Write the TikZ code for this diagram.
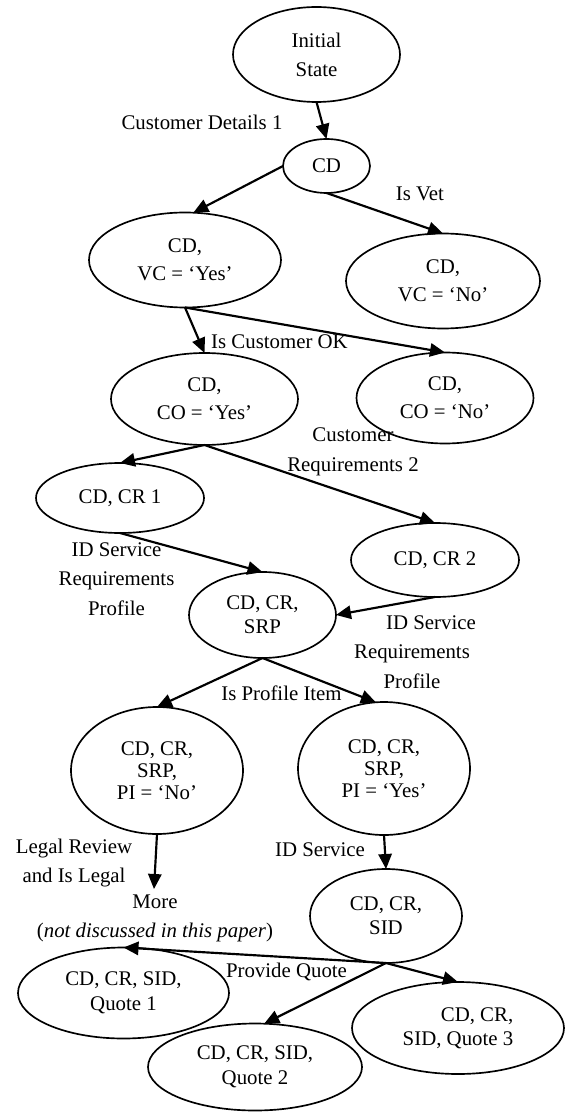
\documentclass[tikz,border=0pt]{standalone}
\usepackage{fontspec}
\setmainfont{Liberation Serif}
\usetikzlibrary{shapes.geometric,arrows.meta}
\begin{document}
\begin{tikzpicture}[x=0.6pt,y=-0.6pt,
  st/.style={ellipse,draw,line width=1pt,inner sep=0pt,outer sep=0pt,align=center},
  lab/.style={inner sep=0pt,align=center,font=\fontsize{12.5pt}{17.7pt}\selectfont},
  arr/.style={line width=1.3pt,-{Triangle[length=9pt,width=8pt]}},
  fA/.style={font=\fontsize{12.5pt}{17.4pt}\selectfont},
  fB/.style={font=\fontsize{12.5pt}{16.8pt}\selectfont},
  fC/.style={font=\fontsize{12.5pt}{14.4pt}\selectfont},
  fD/.style={font=\fontsize{12.5pt}{13.2pt}\selectfont},
  fE/.style={font=\fontsize{12.5pt}{15pt}\selectfont},
]
\useasboundingbox (0,0) rectangle (566,1112);

% states
\node[st,fA,minimum width=100.2pt,minimum height=57pt] (init) at (316.5,54.5) {Initial\\State};
\node[st,fC,minimum width=52.2pt,minimum height=32.4pt] (cd) at (326.5,166) {CD};
\node[st,fB,minimum width=115.2pt,minimum height=57pt] (vcy) at (185,260) {CD,\\VC = ‘Yes’};
\node[st,fB,minimum width=116.4pt,minimum height=57pt] (vcn) at (443,281) {CD,\\VC = ‘No’};
\node[st,fB,minimum width=112.2pt,minimum height=55.2pt] (coy) at (204.5,399) {CD,\\CO = ‘Yes’};
\node[st,fB,minimum width=106.2pt,minimum height=54.6pt] (con) at (445,398) {CD,\\CO = ‘No’};
\node[st,fC,minimum width=100.8pt,minimum height=42pt] (cr1) at (120,498) {CD, CR 1};
\node[st,fC,minimum width=100.8pt,minimum height=44.4pt] (cr2) at (435,560) {CD, CR 2};
\node[st,fC,minimum width=88.2pt,minimum height=51.6pt] (srp) at (262.5,615) {CD, CR,\\SRP};
\node[st,fD,minimum width=103.2pt,minimum height=76.2pt] (pin) at (157,770.5) {CD, CR,\\SRP,\\PI = ‘No’};
\node[st,fD,minimum width=103.2pt,minimum height=79.8pt] (piy) at (384,768.5) {CD, CR,\\SRP,\\PI = ‘Yes’};
\node[st,fC,minimum width=91.2pt,minimum height=56.4pt] (sid) at (386,916) {CD, CR,\\SID};
\node[st,fE,minimum width=126.6pt,minimum height=54.6pt] (q1) at (123.5,993) {CD, CR, SID,\\Quote 1};
\node[st,fE,minimum width=128.4pt,minimum height=52.2pt] (q2) at (255,1067) {CD, CR, SID,\\Quote 2};
\node[st,fC,align=right,minimum width=127.2pt,minimum height=55.2pt] (q3) at (458,1028) {CD, CR,\\SID, Quote 3};

% free end
\coordinate (more) at (154,889);

% labels
\node[lab] (lcd) at (202,122) {Customer Details 1};
\node[lab] (lvet) at (420,194) {Is Vet};
\node[lab] (lcok) at (279.5,342) {Is Customer OK};
\node[lab] (lcr2) at (353,452) {Customer\\Requirements 2};
\node[lab] (lidl) at (116.5,579) {ID Service\\Requirements\\Profile};
\node[lab] (lidr) at (412,652) {\hspace*{22.8pt}ID Service\\Requirements\\Profile};
\node[lab] (lpi) at (281.5,693) {Is Profile Item};
\node[lab] (llegal) at (74,863) {Legal Review\\and Is Legal};
\node[lab] (lids) at (320,850) {ID Service};
\node[lab] (lmore) at (155,918.5) {More\\(\textit{not discussed in this paper})};
\node[lab] (lpq) at (286.5,972) {Provide Quote};

% connectors
\draw[arr] (init.south) -- (cd.north);
\draw[arr] (cd.west) -- (vcy.80);
\draw[arr] (cd.south) -- (vcn.north);
\draw[arr] (vcy.south) -- (coy.north);
\draw[arr] (vcy.south) -- (con.north);
\draw[arr] (coy.south) -- (cr1.north);
\draw[arr] (coy.south) -- (cr2.north);
\draw[arr] (cr1.south) -- (srp.north);
\draw[arr] (cr2.south) -- (srp.east);
\draw[arr] (srp.south) -- (pin.north);
\draw[arr] (srp.south) -- (piy.97);
\draw[arr] (pin.south) -- (more);
\draw[arr] (piy.south) -- (sid.north);
\draw[arr] (sid.south) -- (q1.north);
\draw[arr] (sid.south) -- (q3.north);
\draw[arr] (sid.south) -- (q2.78);
\end{tikzpicture}
\end{document}
